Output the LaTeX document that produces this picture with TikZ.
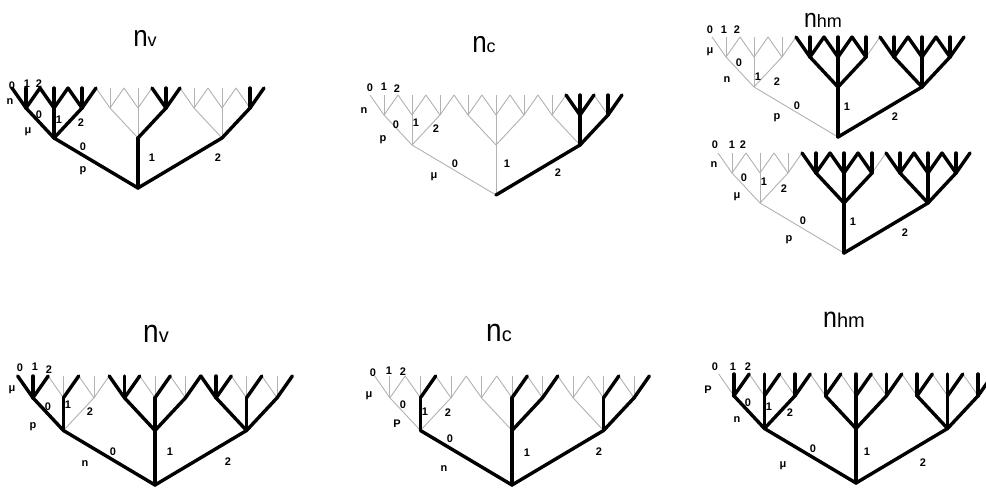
\documentclass[tikz,border=0pt]{standalone}
\usepackage{fontspec}
\usepackage{graphicx}
\setmainfont{Liberation Sans}

\tikzset{
  thinedge/.style={draw=black!30, line width=0.9pt},
  thickedge/.style={draw=black, line width=3.4pt, line cap=round},
  lbl/.style={font=\fontsize{11}{12}\selectfont\bfseries, inner sep=0pt},
  ttl/.style={inner sep=0pt, anchor=base},
}

% Coordinates of a ternary tree of depth three: #1 name, (#2,#3) root, #4 scale
\newcommand\treenodes[4]{%
  \coordinate (#1) at (#2,#3);
  \foreach \i in {0,1,2}{%
    \coordinate (#1\i) at ({#2+#4*84*(\i-1)},{#3-#4*50});
    \foreach \j in {0,1,2}{%
      \coordinate (#1\i\j) at ({#2+#4*(84*(\i-1)+28*(\j-1))},{#3-#4*80});
      \foreach \k in {0,1,2}{%
        \coordinate (#1\i\j\k) at ({#2+#4*(84*(\i-1)+28*(\j-1)+14*(\k-1))},{#3-#4*100});
      }}}}

% Mark the branches (by child path) of tree #1 that are drawn heavy
\newcommand\setthick[2]{%
  \foreach \s in {#2}{\expandafter\gdef\csname thk#1\s\endcsname{}}}

% Light branches first, heavy branches on top
\newcommand\drawtree[1]{%
  \foreach \i in {0,1,2}{%
    \ifcsname thk#1\i\endcsname\else\draw[thinedge] (#1) -- (#1\i);\fi
    \foreach \j in {0,1,2}{%
      \ifcsname thk#1\i\j\endcsname\else\draw[thinedge] (#1\i) -- (#1\i\j);\fi
      \foreach \k in {0,1,2}{%
        \ifcsname thk#1\i\j\k\endcsname\else\draw[thinedge] (#1\i\j) -- (#1\i\j\k);\fi
      }}}%
  \foreach \i in {0,1,2}{%
    \ifcsname thk#1\i\endcsname\draw[thickedge] (#1) -- (#1\i);\fi
    \foreach \j in {0,1,2}{%
      \ifcsname thk#1\i\j\endcsname\draw[thickedge] (#1\i) -- (#1\i\j);\fi
      \foreach \k in {0,1,2}{%
        \ifcsname thk#1\i\j\k\endcsname\draw[thickedge] (#1\i\j) -- (#1\i\j\k);\fi
      }}}}

\newcommand\bigtitle[3]{% big n, then the rest at #3 size
  {\scalebox{1}[1.15]{\fontsize{#1}{#1}\selectfont n}\fontsize{#3}{#3}\selectfont #2}}

\begin{document}
\begin{tikzpicture}[x=1pt,y=-1pt]
\useasboundingbox (0,0) rectangle (986,491);
\clip (0,0) rectangle (986,491);
\fill[white] (0,0) rectangle (986,491);

% tree layout
\treenodes{A}{138}{188}{1}
\treenodes{B}{496}{195}{1}
\treenodes{C}{838}{137}{1}
\treenodes{D}{844}{253}{1}
\treenodes{E}{155}{485}{1.09}
\treenodes{F}{512}{485}{1.09}
\treenodes{G}{856}{483}{1.09}

% heavy branches
\setthick{A}{0,1,2,00,01,02,12,22,000,001,002,010,011,012,020,021,022,120,121,122,221,222}
\setthick{B}{2,21,22,210,211,212,221,222}
\setthick{C}{1,2,10,11,12,20,21,22,100,101,102,110,111,112,120,121,200,201,202,210,211,212,220,221,222}
\setthick{D}{1,2,10,11,12,20,21,22,100,101,102,110,111,112,120,121,200,201,202,210,211,212,220,221,222}
\setthick{E}{0,1,2,00,01,10,11,12,20,21,22,000,001,002,012,100,101,102,112,122,200,201,202,212,222}
\setthick{F}{0,1,2,01,11,12,21,22,012,112,122,212,222}
\setthick{G}{0,1,2,00,01,02,10,11,12,20,21,22,001,002,011,012,021,022,101,102,111,112,121,122,201,202,211,212,221,222}

\drawtree{A}
\drawtree{B}
\drawtree{C}
\drawtree{D}
\drawtree{E}
\drawtree{F}
\drawtree{G}

% titles
\node[ttl] (A-title) at (145,46) {\bigtitle{26}{v}{18}};
\node[ttl] (B-title) at (484,52) {\bigtitle{26}{c}{18}};
\node[ttl] (C-title) at (823,27) {\bigtitle{23}{hm}{18}};
\node[ttl] (E-title) at (156,342) {\bigtitle{28}{v}{20}};
\node[ttl] (F-title) at (499,341) {\bigtitle{28}{c}{20}};
\node[ttl] (G-title) at (844,327) {\bigtitle{25}{hm}{20}};

% labels, tree A
\node[lbl] (A-t0) at (12,86) {0};
\node[lbl] (A-t1) at (27,84) {1};
\node[lbl] (A-t2) at (39,84) {2};
\node[lbl] (A-l3) at (10,102) {n};
\node[lbl] (A-a0) at (39,115) {0};
\node[lbl] (A-a1) at (59,120) {1};
\node[lbl] (A-a2) at (81,123) {2};
\node[lbl] (A-l2) at (28,132) {μ};
\node[lbl] (A-b0) at (83,147) {0};
\node[lbl] (A-l1) at (83,171) {p};
\node[lbl] (A-b1) at (152,158) {1};
\node[lbl] (A-b2) at (218,158) {2};

% labels, tree B
\node[lbl] (B-t0) at (370,88) {0};
\node[lbl] (B-t1) at (384,87) {1};
\node[lbl] (B-t2) at (397,89) {2};
\node[lbl] (B-l3) at (364,111) {n};
\node[lbl] (B-a0) at (396,125) {0};
\node[lbl] (B-a1) at (416,123) {1};
\node[lbl] (B-a2) at (436,129) {2};
\node[lbl] (B-l2) at (383,140) {p};
\node[lbl] (B-b0) at (455,164) {0};
\node[lbl] (B-l1) at (434,177) {μ};
\node[lbl] (B-b1) at (507,164) {1};
\node[lbl] (B-b2) at (558,173) {2};

% labels, tree C
\node[lbl] (C-t0) at (710,30) {0};
\node[lbl] (C-t1) at (724,30) {1};
\node[lbl] (C-t2) at (737,30) {2};
\node[lbl] (C-l3) at (710,52) {μ};
\node[lbl] (C-a0) at (739,63) {0};
\node[lbl] (C-a1) at (758,77) {1};
\node[lbl] (C-a2) at (777,82) {2};
\node[lbl] (C-l2) at (727,80) {n};
\node[lbl] (C-b0) at (797,106) {0};
\node[lbl] (C-l1) at (777,118) {p};
\node[lbl] (C-b1) at (847,107) {1};
\node[lbl] (C-b2) at (895,117) {2};

% labels, tree D
\node[lbl] (D-t0) at (715,145) {0};
\node[lbl] (D-t1) at (732,145) {1};
\node[lbl] (D-t2) at (743,145) {2};
\node[lbl] (D-l3) at (714,165) {n};
\node[lbl] (D-a0) at (744,178) {0};
\node[lbl] (D-a1) at (764,182) {1};
\node[lbl] (D-a2) at (784,189) {2};
\node[lbl] (D-l2) at (737,197) {μ};
\node[lbl] (D-b0) at (803,221) {0};
\node[lbl] (D-l1) at (789,240) {p};
\node[lbl] (D-b1) at (853,222) {1};
\node[lbl] (D-b2) at (905,233) {2};

% labels, tree E
\node[lbl] (E-t0) at (20,368) {0};
\node[lbl] (E-t1) at (35,367) {1};
\node[lbl] (E-t2) at (49,370) {2};
\node[lbl] (E-l3) at (12,390) {μ};
\node[lbl] (E-a0) at (48,407) {0};
\node[lbl] (E-a1) at (68,405) {1};
\node[lbl] (E-a2) at (90,412) {2};
\node[lbl] (E-l2) at (33,427) {p};
\node[lbl] (E-b0) at (113,452) {0};
\node[lbl] (E-l1) at (85,464) {n};
\node[lbl] (E-b1) at (170,452) {1};
\node[lbl] (E-b2) at (228,462) {2};

% labels, tree F
\node[lbl] (F-t0) at (373,373) {0};
\node[lbl] (F-t1) at (389,371) {1};
\node[lbl] (F-t2) at (403,372) {2};
\node[lbl] (F-l3) at (369,396) {μ};
\node[lbl] (F-a0) at (403,405) {0};
\node[lbl] (F-a1) at (425,412) {1};
\node[lbl] (F-a2) at (448,413) {2};
\node[lbl] (F-l2) at (397,424) {P};
\node[lbl] (F-b0) at (450,439) {0};
\node[lbl] (F-l1) at (444,469) {n};
\node[lbl] (F-b1) at (527,453) {1};
\node[lbl] (F-b2) at (599,452) {2};

% labels, tree G
\node[lbl] (G-t0) at (715,367) {0};
\node[lbl] (G-t1) at (733,367) {1};
\node[lbl] (G-t2) at (748,367) {2};
\node[lbl] (G-l3) at (708,390) {P};
\node[lbl] (G-a0) at (748,403) {0};
\node[lbl] (G-a1) at (769,407) {1};
\node[lbl] (G-a2) at (790,413) {2};
\node[lbl] (G-l2) at (737,420) {n};
\node[lbl] (G-b0) at (813,449) {0};
\node[lbl] (G-l1) at (783,466) {μ};
\node[lbl] (G-b1) at (867,452) {1};
\node[lbl] (G-b2) at (923,463) {2};
\end{tikzpicture}
\end{document}
